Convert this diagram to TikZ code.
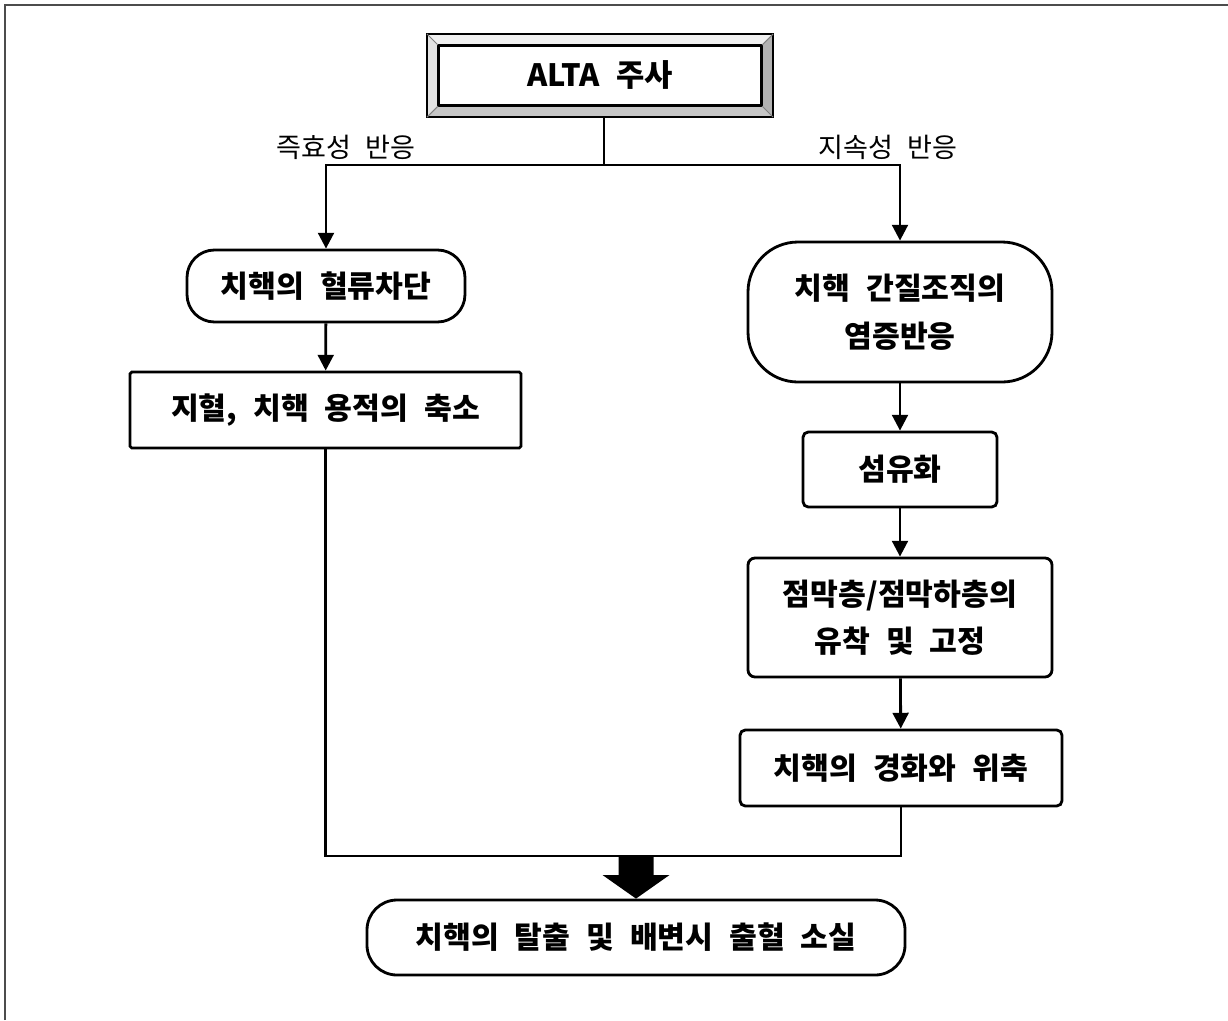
\documentclass[tikz,border=0pt]{standalone}
\usepackage{fontspec}
\setmainfont{Noto Sans CJK KR}[WordSpace=2.3]
\usetikzlibrary{arrows.meta}
\tikzset{
    box/.style={draw=black, line width=1.6pt, align=center, inner sep=0pt,
        font=\bfseries\fontsize{17.2}{27}\selectfont},
    roundbox/.style={box, rounded corners=0.55cm},
    flow/.style={draw=black, line width=1.6pt, -{Triangle[length=9pt,width=9pt]}},
    link/.style={draw=black, line width=1.6pt},
    branch/.style={font=\fontsize{15.4}{17}\selectfont}
}

\begin{document}
\begin{tikzpicture}
\useasboundingbox (0,0) rectangle (24.56,-20.4);
\draw[line width=1.2pt, black!70] (0.1,-20.4) -- (0.1,-0.1) -- (24.56,-0.1);
% beveled start box
\node[draw=black, line width=1.2pt, minimum width=6.88cm, minimum height=1.62cm]
  (alta) at (12.0,-1.51) {};
\node[draw=black, line width=1.2pt, fill=white, minimum width=6.44cm, minimum height=1.18cm,
  font=\bfseries\fontsize{17.5}{20}\selectfont] (altain) at (12.0,-1.51) {ALTA 주사};
\fill[gray!12] (alta.north west) -- (alta.north east) -- (altain.north east) -- (altain.north west) -- cycle;
\fill[gray!22] (alta.north west) -- (altain.north west) -- (altain.south west) -- (alta.south west) -- cycle;
\fill[gray!60] (alta.north east) -- (altain.north east) -- (altain.south east) -- (alta.south east) -- cycle;
\fill[gray!45] (alta.south west) -- (altain.south west) -- (altain.south east) -- (alta.south east) -- cycle;
\draw[line width=1.2pt] (alta.north west) rectangle (alta.south east);
\draw[line width=1.2pt] (altain.north west) rectangle (altain.south east);
\draw[line width=0.6pt, gray] (alta.north west) -- (altain.north west)
  (alta.north east) -- (altain.north east) (alta.south west) -- (altain.south west)
  (alta.south east) -- (altain.south east);
% left branch
\node[roundbox, minimum width=5.56cm, minimum height=1.44cm] (block) at (6.52,-5.72) {치핵의 혈류차단};
\node[box, rounded corners=1pt, minimum width=7.82cm, minimum height=1.52cm] (shrink) at (6.51,-8.2) {지혈, 치핵 용적의 축소};
% right branch
\node[box, rounded corners=1cm, minimum width=6.08cm, minimum height=2.8cm] (inflam) at (18.0,-6.24) {치핵 간질조직의\\염증반응};
\node[box, rounded corners=3pt, minimum width=3.88cm, minimum height=1.5cm] (fibro) at (18.0,-9.39) {섬유화};
\node[box, rounded corners=4pt, minimum width=6.08cm, minimum height=2.38cm] (fix) at (18.0,-12.35) {점막층/점막하층의\\유착 및 고정};
\node[box, rounded corners=3pt, minimum width=6.44cm, minimum height=1.52cm] (harden) at (18.02,-15.36) {치핵의 경화와 위축};
% result
\node[roundbox, rounded corners=0.6cm, minimum width=10.76cm, minimum height=1.5cm] (result) at (12.72,-18.75) {치핵의 탈출 및 배변시 출혈 소실};

\coordinate (split) at (12.08,-3.3);
\coordinate (merge) at (12.72,-17.12);
\draw[link] (12.08,-1.51 |- alta.south) -- (split);
\draw[flow] (split) -| (block.north);
\draw[flow] (split) -| (inflam.north);
\node[branch] (fast) at (6.92,-2.94) {즉효성 반응};
\node[branch] (slow) at (17.76,-2.94) {지속성 반응};

\draw[flow] (block) -- (shrink);
\draw[flow] (inflam) -- (fibro);
\draw[flow] (fibro) -- (fix);
\draw[flow] (fix) -- (harden);

\draw[link] (shrink.south) |- (merge) -| (harden.south);
% block arrow
\fill[black] ([xshift=-0.35cm]merge) -- ([xshift=-0.35cm,yshift=-0.38cm]merge)
  -- ([xshift=-0.67cm,yshift=-0.38cm]merge) -- (merge |- result.north)
  -- ([xshift=0.67cm,yshift=-0.38cm]merge) -- ([xshift=0.35cm,yshift=-0.38cm]merge)
  -- ([xshift=0.35cm]merge) -- cycle;
\end{tikzpicture}
\end{document}
